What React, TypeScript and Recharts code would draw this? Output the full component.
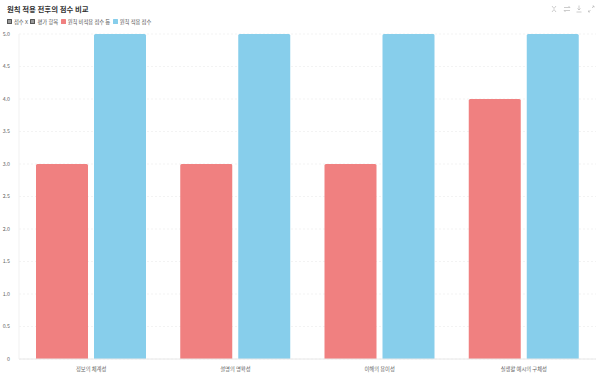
import { Bar, BarChart, CartesianGrid, XAxis, YAxis } from 'recharts'

const CATEGORIES = ['정보의 체계성', '설명의 명확성', '이해의 용이성', '실생활 예시의 구체성']
const BEFORE_SCORES = [3, 3, 3, 4]
const AFTER_SCORES = [5, 5, 5, 5]
const Y_TICKS = [0, 0.5, 1, 1.5, 2, 2.5, 3, 3.5, 4, 4.5, 5]

const BEFORE_NAME = '원칙 비적용 점수 등'
const AFTER_NAME = '원칙 적용 점수'
const BEFORE_COLOR = '#f08080'
const AFTER_COLOR = '#87ceeb'
const FONT = '"Noto Sans CJK KR", "Noto Sans", sans-serif'

const chartData = CATEGORIES.map((name, i) => ({
  name,
  before: BEFORE_SCORES[i],
  after: AFTER_SCORES[i],
}))

const formatTick = (value: number) => (value === 0 ? '0' : value.toFixed(1))

const LEGEND_ITEMS = [
  { label: '점수 X', color: '#9a9a9a', boxed: true },
  { label: '평가 항목', color: '#9a9a9a', boxed: true },
  { label: BEFORE_NAME, color: BEFORE_COLOR, boxed: false },
  { label: AFTER_NAME, color: AFTER_COLOR, boxed: false },
]

const ChartLegend = () => (
  <div style={{ position: 'absolute', left: 7, top: 16.5, display: 'flex', alignItems: 'center', height: 10, fontFamily: FONT, fontSize: 5.3, color: '#555', whiteSpace: 'nowrap' }}>
    {LEGEND_ITEMS.map((item) => (
      <div key={item.label} style={{ display: 'flex', alignItems: 'center', marginRight: 2.5 }}>
        <div
          style={{
            width: 5,
            height: 5,
            marginRight: 2,
            borderRadius: 0.5,
            background: item.color,
            border: item.boxed ? '1px solid #555' : 'none',
            boxSizing: 'border-box',
          }}
        />
        <span>{item.label}</span>
      </div>
    ))}
  </div>
)

const Toolbar = () => (
  <svg width={46} height={10} style={{ position: 'absolute', left: 550, top: 4 }} fill="none" stroke="#b8b8b8" strokeWidth={0.7}>
    <path d="M2 2 L4 4.5 L6 2 M2 8 L4 5.5 L6 8" />
    <path d="M14 3.5 H20 M14 6.5 H20 M18.5 2 L20 3.5 M15.5 8 L14 6.5" />
    <path d="M29 1.5 V6 M27.5 4.5 L29 6 L30.5 4.5 M26.5 8 H31.5" />
    <path d="M38.5 8 L40.5 6 M38.5 6.5 V8 H40 M42 4 L44 2 M42.5 2 H44 V3.5" />
  </svg>
)

export default function App() {
  return (
    <div style={{ position: 'absolute', left: 0, top: 0, width: 600, height: 375, background: '#fff' }}>
      <div style={{ position: 'absolute', left: 7, top: 3, fontFamily: FONT, fontSize: 7.4, fontWeight: 700, color: '#333', whiteSpace: 'nowrap' }}>
        원칙 적용 전후의 점수 비교
      </div>
      <ChartLegend />
      <Toolbar />
      <BarChart
        width={600}
        height={375}
        data={chartData}
        barCategoryGap={17}
        barGap={6}
        margin={{ top: 34, right: 4, bottom: 0, left: 0 }}
      >
        <CartesianGrid vertical={false} stroke="#f3f3f3" strokeDasharray="2 2" />
        <XAxis
          dataKey="name"
          axisLine={{ stroke: '#e8e8e8' }}
          tickLine={false}
          interval={0}
          height={16}
          tick={{ fill: '#666', fontSize: 5.3, fontFamily: FONT }}
        />
        <YAxis
          type="number"
          domain={[0, 5]}
          ticks={Y_TICKS}
          axisLine={{ stroke: '#f1f1f1' }}
          tickLine={false}
          width={19}
          tickMargin={3}
          tickFormatter={formatTick}
          tick={{ fill: '#666', fontSize: 5.3, fontFamily: FONT }}
        />
        <Bar dataKey="before" name={BEFORE_NAME} fill={BEFORE_COLOR} radius={[1.5, 1.5, 0, 0]} isAnimationActive={false} />
        <Bar dataKey="after" name={AFTER_NAME} fill={AFTER_COLOR} radius={[1.5, 1.5, 0, 0]} isAnimationActive={false} />
      </BarChart>
    </div>
  )
}
